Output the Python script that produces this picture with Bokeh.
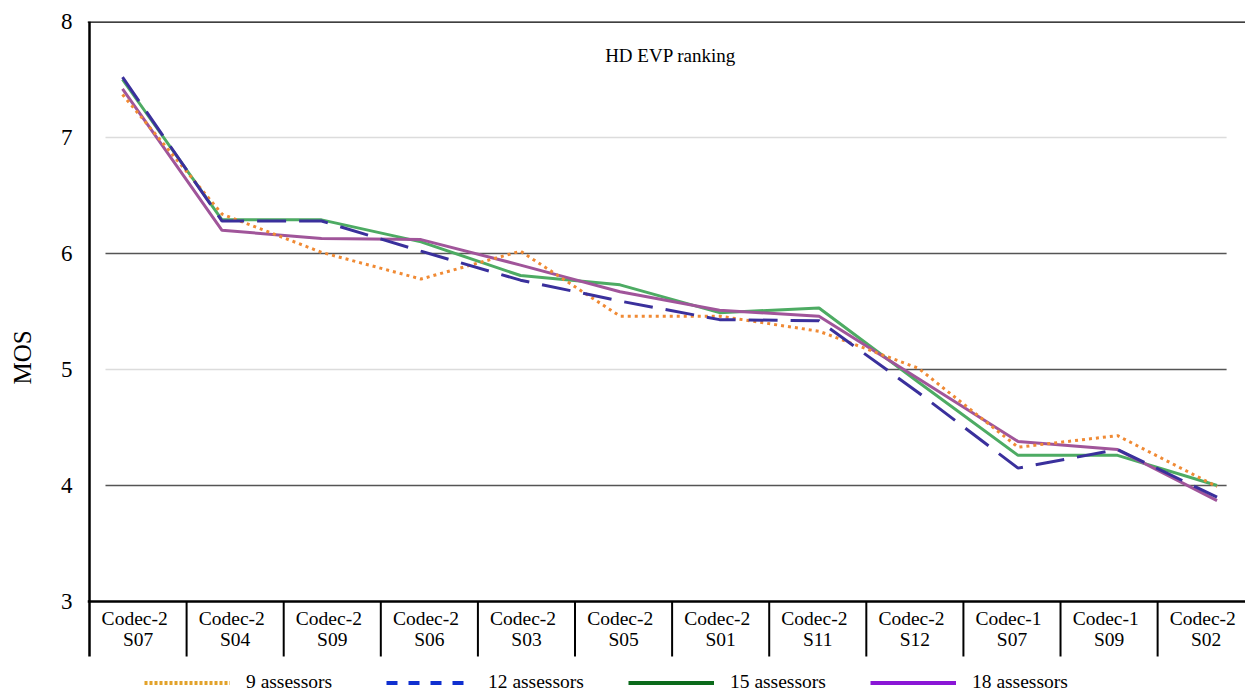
from bokeh.plotting import figure
from bokeh.models import (Range1d, FixedTicker, Span, Legend, LegendItem, Label)
from bokeh.embed import file_html
from bokeh.resources import INLINE
from bokeh.core.properties import value

# ---- data ----
codecs = ["Codec-2", "Codec-2", "Codec-2", "Codec-2", "Codec-2", "Codec-2",
          "Codec-2", "Codec-2", "Codec-2", "Codec-1", "Codec-1", "Codec-2"]
sequences = ["S07", "S04", "S09", "S06", "S03", "S05",
             "S01", "S11", "S12", "S07", "S09", "S02"]

mos_9 = [7.37, 6.34, 6.01, 5.78, 6.02, 5.46, 5.46, 5.33, 5.01, 4.33, 4.43, 3.99]
mos_12 = [7.52, 6.28, 6.28, 6.02, 5.77, 5.59, 5.43, 5.42, 4.80, 4.15, 4.31, 3.90]
mos_15 = [7.50, 6.29, 6.29, 6.10, 5.81, 5.73, 5.49, 5.53, 4.89, 4.26, 4.26, 4.00]
mos_18 = [7.42, 6.20, 6.13, 6.12, 5.90, 5.67, 5.51, 5.46, 4.92, 4.38, 4.31, 3.87]

series_labels = ["9 assessors", "12 assessors", "15 assessors", "18 assessors"]
y_ticks = [3, 4, 5, 6, 7, 8]
chart_title = "HD EVP ranking"
y_title = "MOS"

FONT = "'Liberation Serif', serif"
n = len(sequences)
xs = list(range(n))

Y_TOP = 8.0
Y_AXIS_END = 2.526      # where the left line and box separators stop
Y_FRAME_BOTTOM = 2.207  # frame extends to the canvas bottom (legend inside)

p = figure(width=1245, height=693, output_backend="svg", toolbar_location=None,
           x_range=Range1d(-0.3518, 11.286), y_range=Range1d(Y_FRAME_BOTTOM, Y_TOP),
           x_axis_location=None, min_border_left=87, min_border_top=21,
           min_border_right=0, min_border_bottom=0)
p.extra_x_ranges = {"cats": Range1d(-0.5206, 11.405)}
p.outline_line_color = None
p.xgrid.visible = False
p.ygrid.visible = False
p.background_fill_color = "white"
p.border_fill_color = "white"

# y axis (line drawn separately so it stops at the category boxes)
ax = p.yaxis[0]
ax.ticker = FixedTicker(ticks=y_ticks)
ax.major_tick_line_color = None
ax.minor_tick_line_color = None
ax.major_tick_out = 0
ax.major_label_standoff = 15
ax.axis_line_color = None
ax.major_label_text_font = FONT
ax.major_label_text_font_size = "23px"
ax.major_label_text_color = "black"
ax.axis_label = y_title
ax.axis_label_text_font = FONT
ax.axis_label_text_font_style = "normal"
ax.axis_label_text_font_size = "25px"
ax.axis_label_text_color = "black"
ax.axis_label_standoff = 22

# gridlines
grid_x0 = -0.171
grid_x1 = 11.096
light = "#dcdcdc"
dark = "#555555"
p.segment(x0=[grid_x0, grid_x0, grid_x0, 7.67, grid_x0],
          x1=[grid_x1, grid_x1, 7.67, grid_x1, grid_x1],
          y0=[7, 6, 5, 5, 4], y1=[7, 6, 5, 5, 4],
          line_color=[light, dark, light, dark, dark], line_width=1.3)

# frame lines
p.add_layout(Span(location=Y_TOP, dimension="width", line_color="black", line_width=2.5))
p.add_layout(Span(location=3, dimension="width", line_color="black", line_width=2.5))
p.segment(x0=[-0.5], x1=[-0.5], y0=[Y_TOP], y1=[Y_AXIS_END],
          line_color="black", line_width=2.5, x_range_name="cats")

# category boxes
p.segment(x0=[i + 0.5 for i in xs[:-1]], x1=[i + 0.5 for i in xs[:-1]],
          y0=[3] * (n - 1), y1=[Y_AXIS_END] * (n - 1),
          line_color="black", line_width=2, x_range_name="cats")
p.text(x=[i - 0.035 for i in xs], y=[2.853] * n, text=codecs, x_range_name="cats",
       text_font=value(FONT), text_font_size="19.5px", text_align="center",
       text_baseline="middle", text_color="black")
p.text(x=xs, y=[2.672] * n, text=sequences, x_range_name="cats",
       text_font=value(FONT), text_font_size="19.5px", text_align="center",
       text_baseline="middle", text_color="black")

# data lines
p.line(xs, mos_15, line_color="#4dab63", line_width=3)
p.line(xs, mos_18, line_color="#a0559a", line_width=3)
p.line(xs, mos_9, line_color="#f08a34", line_width=3, line_dash="3 4")
p.line(xs, mos_12, line_color="#3a309c", line_width=3, line_dash="29 13")

# title
p.add_layout(Label(x=5.508, y=7.707, text=chart_title, text_font=FONT,
                   text_font_size="19px", text_align="center",
                   text_baseline="middle", text_color="black"))

# legend (own styles; dummy renderers lie outside the visible range)
hidden_y = [Y_FRAME_BOTTOM - 50] * 2
hidden_x = xs[:2]
r9 = p.line(hidden_x, hidden_y, line_color="#e2a22a", line_width=4, line_dash="3 2")
r12 = p.line(hidden_x, hidden_y, line_color="#1030d0", line_width=4, line_dash="11 11")
r15 = p.line(hidden_x, hidden_y, line_color="#0b6a1b", line_width=4)
r18 = p.line(hidden_x, hidden_y, line_color="#8a16d6", line_width=4)
legend = Legend(items=[LegendItem(label=series_labels[0], renderers=[r9]),
                       LegendItem(label=series_labels[1], renderers=[r12]),
                       LegendItem(label=series_labels[2], renderers=[r15]),
                       LegendItem(label=series_labels[3], renderers=[r18])],
                orientation="horizontal", location=(57, 0))
legend.glyph_width = 86
legend.glyph_height = 19
legend.label_standoff = 16
legend.label_width = 130
legend.label_height = 19
legend.spacing = 10
legend.padding = 0
legend.margin = 0
legend.border_line_color = None
legend.background_fill_alpha = 0
legend.label_text_font = FONT
legend.label_text_font_size = "19.5px"
legend.label_text_color = "black"
p.add_layout(legend, "center")

open("out.html", "w").write(file_html(p, INLINE))
